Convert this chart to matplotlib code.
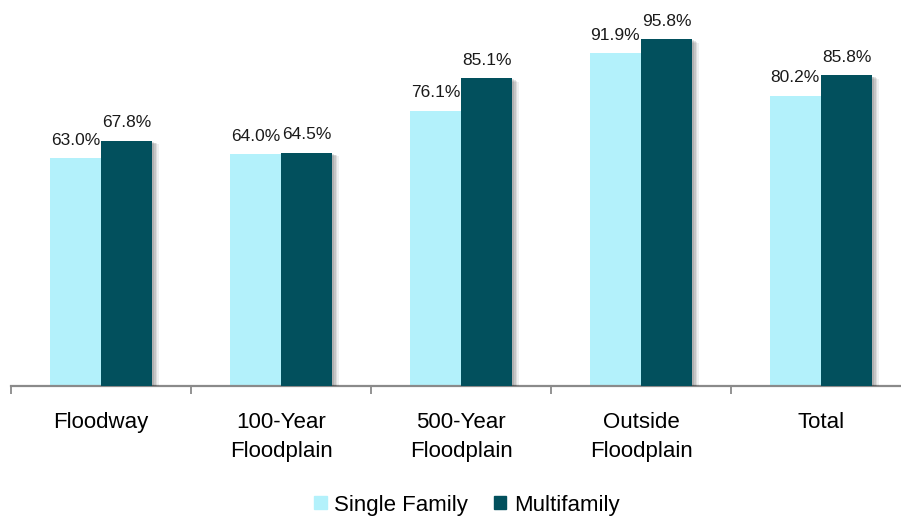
import matplotlib
matplotlib.use("Agg")
import matplotlib.pyplot as plt
import matplotlib.patheffects as pe
from matplotlib.patches import Patch
import numpy as np

plt.rcParams['font.family'] = ['Liberation Sans', 'DejaVu Sans']

categories = ["Floodway", "100-Year\nFloodplain", "500-Year\nFloodplain",
              "Outside\nFloodplain", "Total"]
single_family = [63.0, 64.0, 76.1, 91.9, 80.2]
multifamily = [67.8, 64.5, 85.1, 95.8, 85.8]

light = "#b3f1fb"
dark = "#02505d"
axis_gray = "#8a8a8a"

fig = plt.figure(figsize=(9.01, 5.21), dpi=100)
# axes run a little past the right edge, like the original slide export
ax = fig.add_axes([11 / 901, (521 - 386) / 521, 900 / 901, 386 / 521])

x = np.arange(len(categories))
w = 0.285

# soft drop shadow: a few stacked offsets with falling alpha
shadow = [pe.SimplePatchShadow(offset=(o, -o * 0.6), shadow_rgbFace="black", alpha=a)
          for o, a in [(4.5, 0.06), (3.5, 0.08), (2.5, 0.1), (1.5, 0.1)]] + [pe.Normal()]

b1 = ax.bar(x - w / 2, single_family, w, color=light, path_effects=shadow, zorder=2)
b2 = ax.bar(x + w / 2, multifamily, w, color=dark, path_effects=shadow, zorder=3)

for bars, vals in [(b1, single_family), (b2, multifamily)]:
    for r, v in zip(bars, vals):
        ax.annotate(f"{v:.1f}%", (r.get_x() + r.get_width() / 2, v),
                    xytext=(0, 7.5), textcoords="offset points",
                    ha="center", va="bottom", fontsize=12.5, color="#1a1a1a")

ax.set_xlim(-0.5, len(categories) - 0.5)
ax.set_ylim(0, 386 / 3.62)

for s in ["left", "top", "right"]:
    ax.spines[s].set_visible(False)
ax.spines["bottom"].set_color(axis_gray)
ax.spines["bottom"].set_linewidth(1.6)
ax.set_yticks([])

# boundary ticks between groups, labels at group centres
ax.set_xticks(np.arange(len(categories) + 1) - 0.5)
ax.set_xticklabels([])
ax.tick_params(axis="x", which="major", direction="out", length=6,
               width=1.3, color=axis_gray)
ax.set_xticks(x, minor=True)
ax.set_xticklabels(categories, minor=True, fontsize=16, linespacing=1.45)
ax.tick_params(axis="x", which="minor", length=0, pad=19)

handles = [Patch(color=light, label="Single Family"),
           Patch(color=dark, label="Multifamily")]
fig.legend(handles=handles, loc="center", bbox_to_anchor=(467 / 901, 1 - 505 / 521),
           ncol=2, frameon=False, fontsize=16, handlelength=0.55, handleheight=0.55,
           handletextpad=0.35, columnspacing=1.15)

fig.savefig("out.png", dpi=100)
